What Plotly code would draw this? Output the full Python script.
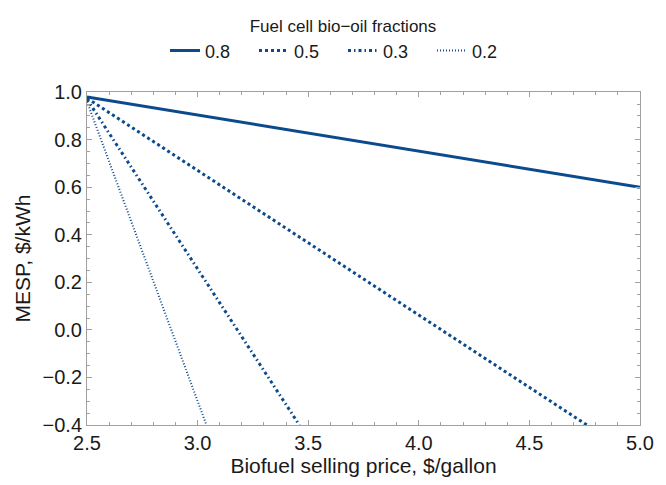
import plotly.graph_objects as go

# Data (linear MESP vs biofuel price lines)
fractions = ["0.8", "0.5", "0.3", "0.2"]
x_08 = [2.5, 5.0]
y_08 = [0.98, 0.60]
x_05 = [2.5, 4.76]
y_05 = [0.975, -0.40]
x_03 = [2.5, 3.46]
y_03 = [0.97, -0.40]
x_02 = [2.5, 3.04]
y_02 = [0.96, -0.40]

xs = [x_08, x_05, x_03, x_02]
ys = [y_08, y_05, y_03, y_02]
dashes = ["solid", "3px,3px", "3px,3px,1.5px,3px", "1px,2px"]
widths = [3, 3, 3, 2]
color = "#0b4a8c"
FONT = "Liberation Sans, Arial, sans-serif"

fig = go.Figure()
for name, x, y, d, w in zip(fractions, xs, ys, dashes, widths):
    fig.add_trace(go.Scatter(x=x, y=y, mode="lines", name=name,
                             line=dict(color=color, width=w, dash=d)))

axis_common = dict(
    showgrid=False, zeroline=False, showline=True, linecolor="#a0a0a0", linewidth=1,
    mirror="allticks", ticks="inside", ticklen=5, tickcolor="#a0a0a0",
    tickfont=dict(size=20, color="#1a1a1a", family=FONT),
)

fig.update_xaxes(range=[2.5, 5.0], dtick=0.5, tick0=2.5, tickformat=".1f",
                 minor=dict(dtick=0.1, ticks="inside", ticklen=3, tickcolor="#a0a0a0"),
                 title=dict(text="Biofuel selling price, $/gallon", standoff=4,
                            font=dict(size=21, color="#1a1a1a", family=FONT)),
                 **axis_common)
fig.update_yaxes(range=[-0.4, 1.0], dtick=0.2, tick0=0, tickformat=".1f",
                 minor=dict(dtick=0.05, ticks="inside", ticklen=3, tickcolor="#a0a0a0"),
                 title=dict(text="MESP, $/kWh", standoff=6,
                            font=dict(size=21, color="#1a1a1a", family=FONT)),
                 **axis_common)

fig.update_layout(
    width=666, height=485,
    margin=dict(l=87, r=19, t=82, b=56),
    paper_bgcolor="white", plot_bgcolor="white",
    font=dict(family=FONT, color="#1a1a1a"),
    legend=dict(orientation="h", xref="container", yref="container",
                x=0.515, xanchor="center", y=0.979, yanchor="top",
                title=dict(text="Fuel cell bio−oil fractions", side="top center",
                           font=dict(size=17, family=FONT)),
                font=dict(size=18, family=FONT), entrywidth=44, entrywidthmode="pixels",
                bgcolor="rgba(0,0,0,0)"),
    showlegend=True,
)

fig.write_html("out.html")
